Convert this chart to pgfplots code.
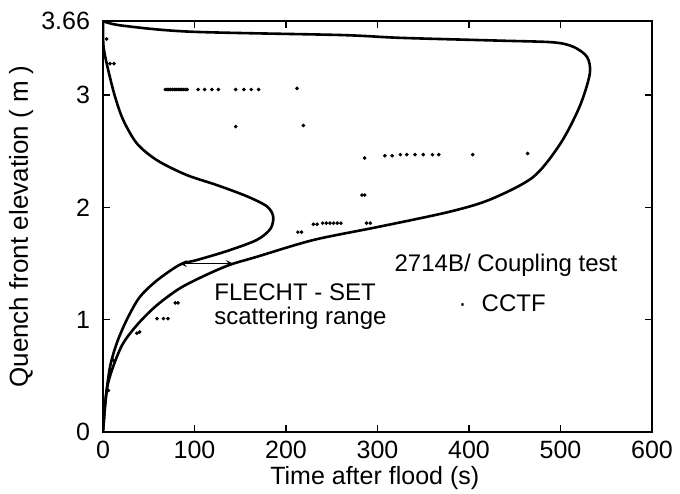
\documentclass[border=0pt]{standalone}
\usepackage{fontspec}
\setmainfont{Liberation Sans}
\usepackage{pgfplots}
\pgfplotsset{compat=1.18}
\begin{document}
\begin{tikzpicture}
\begin{axis}[name=ax, scale only axis, width=274.5pt, height=205.5pt,
  xmin=0, xmax=600, ymin=0, ymax=3.66,
  xtick={0,100,200,300,400,500,600},
  ytick={0,1,2,3,3.66}, yticklabels={0,1,2,3,3.66},
  tick align=inside, major tick length=3.5pt,
  axis line style={line width=1pt},
  tick style={line width=0.7pt, black},
  /pgf/number format/assume math mode=true,
  ticklabel style={font=\fontsize{12.5}{13}\selectfont},
  yticklabel style={xshift=-3pt},
  xticklabel style={yshift=-1pt},
  xlabel={Time after flood (s)},
  ylabel={Quench front elevation ( m )},
  xlabel style={at={(axis description cs:0.495,-0.112)}, anchor=center, font=\fontsize{12.5}{13}\selectfont},
  ylabel style={at={(axis description cs:-0.149,0.5)}, anchor=center, font=\fontsize{13}{14}\selectfont},
]
% outer envelope
\addplot[smooth, line width=1.3pt, black] coordinates {
(0,3.66) (20,3.62) (95,3.565) (260,3.535) (325,3.51) (434,3.485) (492,3.47)
(514,3.43) (529,3.34) (532,3.19) (521,2.90) (500,2.57) (470,2.27) (423,2.07)
(378,1.96) (303,1.83) (230,1.71) (168,1.56) (139,1.49) (113,1.40) (84,1.28)
(59,1.13) (39,0.97) (22,0.79) (11,0.58) (4,0.37) (0,0)};
% inner envelope
\addplot[smooth, line width=1.3pt, black] coordinates {
(0,3.66) (0.6,3.43) (5.8,3.22) (13,2.99) (22,2.78) (37,2.57) (59,2.42)
(91,2.29) (124,2.20) (157,2.10) (179,2.01) (186,1.92) (183,1.81) (168,1.71)
(135,1.61) (102,1.53) (84,1.49) (59,1.35) (40,1.20) (26,1.0) (15,0.79)
(7.7,0.58) (3,0.3) (0,0)};
% arrow
\addplot[<->, >=stealth, line width=0.5pt, black] coordinates {(84,1.50) (142,1.50)};
% CCTF data
\addplot[only marks, mark=*, mark size=0.7pt, black] coordinates {
(68,3.05) (70,3.05) (72,3.05) (74,3.05) (76,3.05) (78,3.05) (80,3.05) (82,3.05)
(84,3.05) (86,3.05) (88,3.05) (90,3.05) (92,3.05)
(104,3.05) (111,3.05) (119,3.05) (126,3.05) (145,3.05) (154,3.05) (162,3.05) (170,3.05)
(212,3.06)
(145,2.72) (219,2.73)
(7.6,3.28) (12,3.28) (4,3.5)
(286,2.44) (308,2.46) (316,2.46) (325,2.47) (332,2.47) (341,2.47) (350,2.47)
(360,2.47) (367,2.47) (404,2.47) (464,2.48)
(283,2.11) (286,2.11)
(230,1.85) (234,1.85) (240,1.86) (244,1.86) (248,1.86) (252,1.86) (256,1.86) (260,1.86)
(288,1.86) (292,1.86)
(213,1.78) (217,1.78)
(79,1.15) (82,1.15) (59,1.01) (66,1.01) (71,1.01) (37,0.88) (40,0.89)
(11,0.64) (6,0.37)};
\node[anchor=base west, font=\fontsize{12}{13}\selectfont] at (axis cs:311,1.425) {2714B/ Coupling test};
\node[anchor=base west, font=\fontsize{12}{13}\selectfont] at (axis cs:381,1.07) {·\hspace{7.5pt}CCTF};
\node[anchor=base west, font=\fontsize{12}{13}\selectfont] at (axis cs:114,1.167) {FLECHT - SET};
\node[anchor=base west, font=\fontsize{12}{13}\selectfont] at (axis cs:114,0.953) {scattering range};
\end{axis}
\pgfresetboundingbox
\path ([xshift=-51.5pt,yshift=-30.5pt]ax.south west) rectangle ([xshift=14pt,yshift=10.5pt]ax.north east);
\end{tikzpicture}
\end{document}
